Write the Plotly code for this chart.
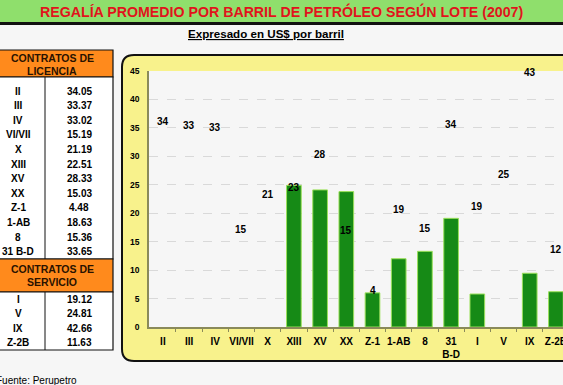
import plotly.graph_objects as go

# ---------------- data ----------------
categories = ["II", "III", "IV", "VI/VII", "X", "XIII", "XV", "XX", "Z-1", "1-AB", "8",
              "31<br>B-D", "I", "V", "IX", "Z-2B"]
regalia = [34.05, 33.37, 33.02, 15.19, 21.19, 22.51, 28.33, 15.03, 4.48, 18.63, 15.36,
           33.65, 19.12, 24.81, 42.66, 11.63]
bar_values = [None, None, None, None, None, 24.9, 24.1, 23.8, 6.0, 12.0, 13.3, 19.1,
              5.8, None, 9.45, 6.2]
lotes_licencia = ["II", "III", "IV", "VI/VII", "X", "XIII", "XV", "XX", "Z-1", "1-AB",
                  "8", "31 B-D"]
valores_licencia = [34.05, 33.37, 33.02, 15.19, 21.19, 22.51, 28.33, 15.03, 4.48, 18.63,
                    15.36, 33.65]
lotes_servicio = ["I", "V", "IX", "Z-2B"]
valores_servicio = [19.12, 24.81, 42.66, 11.63]
y_ticks = [0, 5, 10, 15, 20, 25, 30, 35, 40, 45]

# ---------------- geometry helpers ----------------
W, H = 563, 385
PL, PR, PT, PB = 149, 563, 71, 327


def px(x):
    return (x - PL) / (PR - PL)


def py(y):
    return (PB - y) / (PB - PT)


FONT = "Arial, Liberation Sans, sans-serif"
xs = list(range(len(categories)))

fig = go.Figure()
fig.add_trace(go.Bar(
    x=xs, y=bar_values, width=0.56,
    marker=dict(color="#168a16", line=dict(color="#9be05a", width=1)),
    hoverinfo="skip", showlegend=False))

annotations = []
# value labels (rounded regalía) placed above each lot's value
for xi, v in zip(xs, regalia):
    annotations.append(dict(x=xi, y=v, xref="x", yref="y", text=f"{v:.0f}",
                            showarrow=False, yanchor="middle", yshift=11.5,
                            font=dict(family=FONT, size=10, color="black", weight="bold")))

shapes = []
# green title band
shapes.append(dict(type="rect", xref="paper", yref="paper", x0=px(-5), x1=px(570),
                   y0=py(22), y1=py(-5), fillcolor="#8fdf6c", line=dict(width=0), layer="below"))
shapes.append(dict(type="rect", xref="paper", yref="paper", x0=px(-5), x1=px(570),
                   y0=py(25), y1=py(22), fillcolor="#111111", line=dict(width=0), layer="below"))
# yellow chart panel with rounded left corners
r = 12
x0, y0, x1, y1 = 122, 55, 575, 361


def P(x, y):
    return f"{px(x):.5f},{py(y):.5f}"


path = (f"M {P(x0 + r, y0)} L {P(x1, y0)} L {P(x1, y1)} L {P(x0 + r, y1)} "
        f"Q {P(x0, y1)} {P(x0, y1 - r)} L {P(x0, y0 + r)} Q {P(x0, y0)} {P(x0 + r, y0)} Z")
shapes.append(dict(type="path", xref="paper", yref="paper", path=path,
                   fillcolor="#f8f28c", line=dict(color="#111111", width=2), layer="below"))
# plot area background
shapes.append(dict(type="rect", xref="paper", yref="paper", x0=0, x1=1.01, y0=0, y1=1,
                   fillcolor="#f6f6f6", line=dict(width=0), layer="below"))

# table
TL, TD, TR = -10, 45, 113
lic_top_h, lic_bot_h = 50, 77
lic_first, lic_step = 91, 14.6
lic_body_bot = 259
ser_bot_h = 292
ser_first, ser_step = 299, 14.5
ser_body_bot = 350

for (ht, hb, bb) in [(lic_top_h, lic_bot_h, lic_body_bot), (lic_body_bot, ser_bot_h, ser_body_bot)]:
    shapes.append(dict(type="rect", xref="paper", yref="paper", x0=px(TL), x1=px(TR),
                       y0=py(hb), y1=py(ht), fillcolor="#ff8a1c",
                       line=dict(color="#111111", width=1.2)))
    shapes.append(dict(type="rect", xref="paper", yref="paper", x0=px(TL), x1=px(TR),
                       y0=py(bb), y1=py(hb), fillcolor="#ffffff",
                       line=dict(color="#111111", width=1.2)))
    shapes.append(dict(type="line", xref="paper", yref="paper", x0=px(TD), x1=px(TD),
                       y0=py(bb), y1=py(hb), line=dict(color="#111111", width=1)))


def ann(x, y, text, size=10, bold=True, color="black", xanchor="center", underline=False):
    t = f"<u>{text}</u>" if underline else text
    annotations.append(dict(x=px(x), y=py(y), xref="paper", yref="paper", text=t,
                            showarrow=False, xanchor=xanchor, yanchor="middle",
                            font=dict(family=FONT, size=size, color=color,
                                      weight="bold" if bold else "normal")))


ann(281, 11, "REGALÍA PROMEDIO POR BARRIL DE PETRÓLEO SEGÚN LOTE (2007)", size=14.2,
    color="#e0141c")
ann(266, 33, "Expresado en US$ por barril", size=11.6, underline=True)

ann(52, 58, "CONTRATOS DE", size=10.5, color="#2a1200")
ann(52, 71, "LICENCIA", size=10.5, color="#2a1200")
for i, (n, v) in enumerate(zip(lotes_licencia, valores_licencia)):
    yy = lic_first + lic_step * i
    ann(18, yy, n, size=10)
    ann(79, yy, f"{v:.2f}", size=10)
ann(52, lic_body_bot + 10, "CONTRATOS DE", size=10.5, color="#2a1200")
ann(52, lic_body_bot + 23, "SERVICIO", size=10.5, color="#2a1200")
for i, (n, v) in enumerate(zip(lotes_servicio, valores_servicio)):
    yy = ser_first + ser_step * i
    ann(18, yy, n, size=10)
    ann(79, yy, f"{v:.2f}", size=10)
ann(-6, 380, "Fuente: Perupetro", size=10, bold=False, xanchor="left")

fig.update_layout(
    template="none",
    width=W, height=H,
    margin=dict(l=PL, r=W - PR, t=PT, b=H - PB, pad=0, autoexpand=False),
    paper_bgcolor="#f6f6f6", plot_bgcolor="rgba(0,0,0,0)",
    shapes=shapes, annotations=annotations, bargap=0.44,
    font=dict(family=FONT),
)
fig.update_xaxes(
    automargin=False, ticklabeloverflow="allow",
    range=[-0.53, 15.27], tickmode="array", tickvals=xs,
    ticktext=categories, showgrid=False, showline=True, linecolor="#8a8a5a", linewidth=1.5,
    ticks="", ticklabelstandoff=4,
    minor=dict(tickmode="array", tickvals=[i + 0.5 for i in xs[:-1]], ticks="outside",
               ticklen=3, tickcolor="#8a8a5a", tickwidth=1, showgrid=False),
    tickfont=dict(family=FONT, size=10, color="black", weight="bold"),
    zeroline=False, fixedrange=True)
fig.update_yaxes(
    automargin=False,
    range=[0, 45], tickvals=y_ticks, showgrid=True, gridcolor="#d9d9d9", griddash="dash",
    gridwidth=1, showline=True, linecolor="#8a8a5a", linewidth=1.5, mirror=True,
    tickfont=dict(family=FONT, size=8.5, color="black", weight="bold"), ticks="",
    ticklabelstandoff=6, zeroline=False, fixedrange=True)

fig.write_html("out.html", config={"displayModeBar": False},
               post_script="document.body.style.margin='0';"
                           "document.body.style.overflow='hidden';"
                           "document.body.style.background='#f6f6f6';")
